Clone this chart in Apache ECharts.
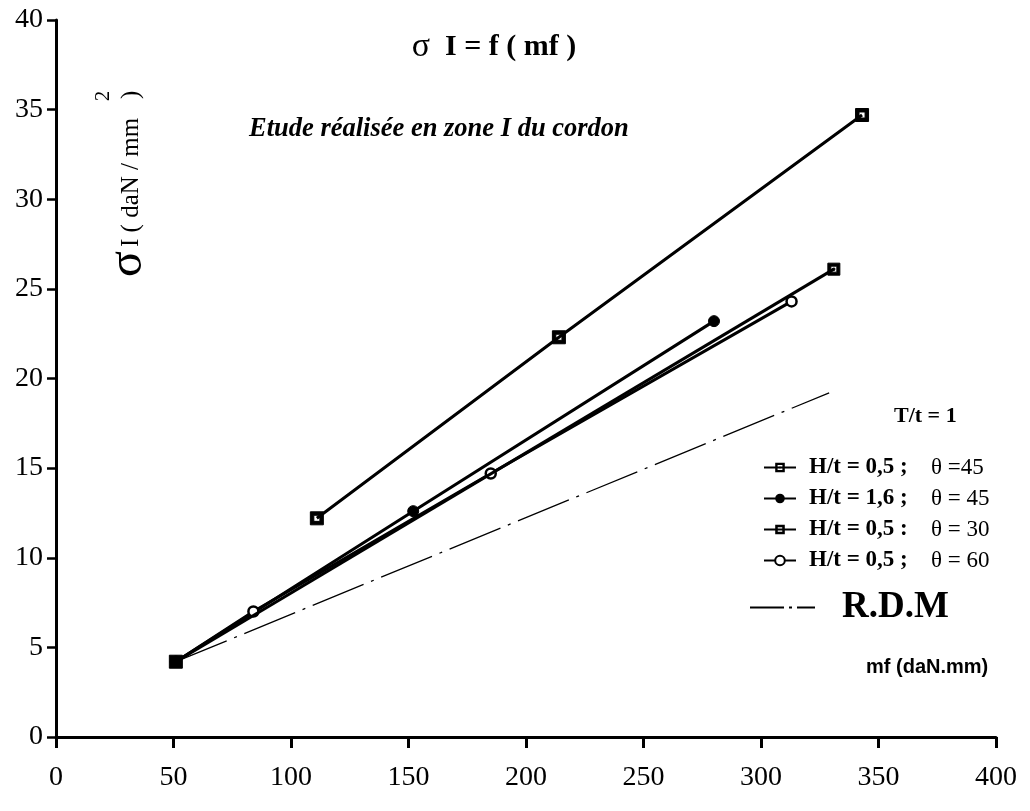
<!DOCTYPE html>
<html>
<head>
<meta charset="utf-8">
<script src="https://cdn.jsdelivr.net/npm/echarts@6/dist/echarts.min.js"></script>
<style>html,body{margin:0;padding:0;background:#fff}#c{width:1030px;height:811px}</style>
</head>
<body>
<div id="c"></div>
<script>
// ---- data ----
var xTicks = [0, 50, 100, 150, 200, 250, 300, 350, 400];
var yTicks = [0, 5, 10, 15, 20, 25, 30, 35, 40];
var hRatios = ['H/t = 0,5 ;', 'H/t = 1,6 ;', 'H/t = 0,5 :', 'H/t = 0,5 ;'];
var angles  = ['\u03b8 =45', '\u03b8 = 45', '\u03b8 = 30', '\u03b8 = 60'];
// series: mf (daN.mm), sigma I (daN/mm2)
var s45_05 = [[51, 4.2], [331, 26.1]];
var s45_16 = [[51, 4.2], [152, 12.6], [280, 23.2]];
var s30_05 = [[111, 12.2], [214, 22.3], [343, 34.7]];
var s60_05 = [[51, 4.2], [84, 7.0], [185, 14.7], [313, 24.3]];
var rdm    = [[51, 4.2], [329, 19.2]];
var rdmName = 'R.D.M';

var serif = 'Liberation Serif';
var chart = echarts.init(document.getElementById('c'), null, {renderer: 'canvas'});

var names = hRatios.map(function (h, i) { return h + '  ' + angles[i]; });
var symSqDot = 'path://M0,0H12V12H0Z M3,3V9H9V3Z M5,5H7V7H5Z';
var symSqHole = 'path://M0,0H12V12H0Z M3.2,3.2V8.8H8.8V3.2Z';
var dashDotIcon = 'path://M0,0H34V2H0Z M39,0H42V2H39Z M47,0H65V2H47Z';

function lineSeries(name, data, symbol, size, extra) {
  var s = {
    type: 'line', name: name, data: data, symbol: symbol, symbolSize: size,
    showSymbol: true, animation: false, z: 3,
    lineStyle: {color: '#000', width: 3},
    itemStyle: {color: '#000', borderColor: '#000'}
  };
  for (var k in extra) s[k] = extra[k];
  return s;
}

var d45 = s45_05.map(function (p, i) {
  return i === 0 ? {value: p, symbol: 'rect', symbolSize: 13} : {value: p};
});

var option = {
  backgroundColor: '#fff',
  animation: false,
  color: ['#000'],
  title: [
    {text: '{s|\u03c3}  I = f ( mf )', left: 489, top: 25, textAlign: 'center',
     textStyle: {fontFamily: serif, fontWeight: 'bold', fontSize: 30, color: '#000',
       rich: {s: {fontFamily: serif, fontWeight: 'normal', fontSize: 34, color: '#000'}}}},
    {text: 'Etude r\u00e9alis\u00e9e en zone I du cordon', left: 244, top: 111,
     textStyle: {fontFamily: serif, fontWeight: 'bold', fontStyle: 'italic', fontSize: 26.5, color: '#000'}}
  ],
  grid: {left: 56, right: 34, top: 20, bottom: 74, containLabel: false, outerBoundsMode: 'none'},
  xAxis: {
    type: 'value', min: xTicks[0], max: xTicks[xTicks.length - 1], interval: 50,
    splitLine: {show: false},
    axisLine: {onZero: false, lineStyle: {color: '#000', width: 3}},
    axisTick: {length: 11, lineStyle: {color: '#000', width: 3}},
    axisLabel: {margin: 27, fontFamily: serif, fontSize: 28, color: '#000'}
  },
  yAxis: {
    type: 'value', min: yTicks[0], max: yTicks[yTicks.length - 1], interval: 5,
    splitLine: {show: false},
    axisLine: {onZero: false, lineStyle: {color: '#000', width: 3}},
    axisTick: {length: 9, lineStyle: {color: '#000', width: 2.5}},
    axisLabel: {margin: 13, fontFamily: serif, fontSize: 28, color: '#000'}
  },
  legend: [
    {
      data: names, orient: 'vertical', left: 758, top: 451,
      itemWidth: 32, itemHeight: 12, itemGap: 8,
      formatter: function (n) {
        var i = names.indexOf(n);
        return '{a|' + hRatios[i] + '}{b|' + angles[i] + '}';
      },
      textStyle: {
        color: '#000',
        rich: {
          a: {fontFamily: serif, fontWeight: 'bold', fontSize: 23, width: 122, padding: [0, 0, 0, 8], lineHeight: 23, color: '#000'},
          b: {fontFamily: serif, fontSize: 23, lineHeight: 23, color: '#000'}
        }
      }
    },
    {
      data: [{name: rdmName, icon: dashDotIcon}], orient: 'vertical', left: 745, top: 584,
      itemWidth: 65, itemHeight: 2,
      textStyle: {fontFamily: serif, fontWeight: 'bold', fontSize: 37, color: '#000', padding: [0, 0, 0, 22]}
    }
  ],
  graphic: [
    {type: 'text', left: 894, top: 405, style: {text: 'T/t = 1', font: 'bold 22px "Liberation Serif"', fill: '#000'}},
    {type: 'text', left: 866, top: 657, style: {text: 'mf (daN.mm)', font: 'bold 20px "Liberation Sans"', fill: '#000'}},
    {type: 'text', x: 131, y: 247, rotation: Math.PI / 2,
     style: {text: 'I ( daN / mm   )', font: '25px "Liberation Serif"', fill: '#000', align: 'left', verticalAlign: 'middle'}},
    {type: 'text', x: 103, y: 96, rotation: Math.PI / 2,
     style: {text: '2', font: '21px "Liberation Serif"', fill: '#000', align: 'center', verticalAlign: 'middle'}},
    {type: 'text', x: 128, y: 264, rotation: Math.PI / 2,
     style: {text: '\u03c3', font: '48px "Liberation Serif"', fill: '#000', align: 'center', verticalAlign: 'middle'}}
  ],
  series: [
    lineSeries(names[0], d45, symSqDot, 12, {z: 5}),
    lineSeries(names[1], s45_16, 'circle', 11, {}),
    lineSeries(names[2], s30_05, symSqHole, 13, {}),
    lineSeries(names[3], s60_05, 'circle', 10, {itemStyle: {color: '#fff', borderColor: '#000', borderWidth: 2.5}}),
    {
      type: 'line', name: rdmName, data: rdm, symbol: 'none', animation: false, z: 2,
      lineStyle: {color: '#000', width: 1.3, type: [55, 8, 3, 8]},
      itemStyle: {color: '#000'}
    }
  ]
};
chart.setOption(option);
</script>
</body>
</html>
